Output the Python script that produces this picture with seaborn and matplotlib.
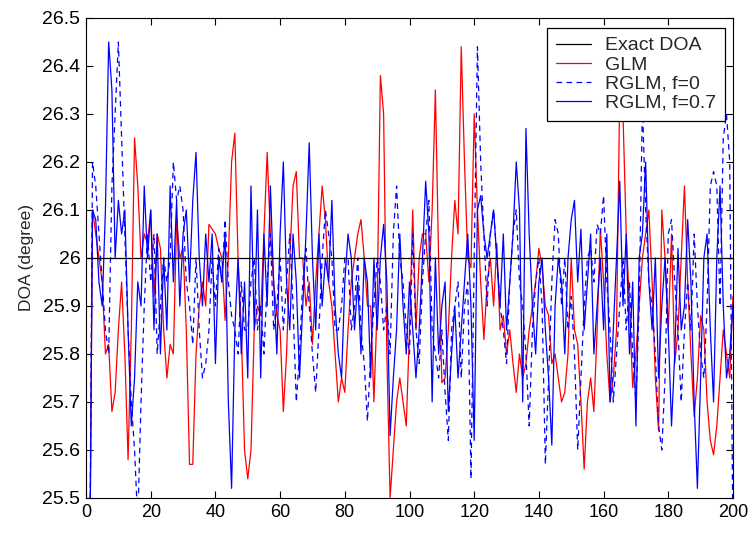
import numpy as np
import pandas as pd
import matplotlib
matplotlib.use("Agg")
import matplotlib.pyplot as plt
import seaborn as sns

# snapshot index 1..200
snapshots = list(range(1, 201))
exact_doa = 26.0

glm = [25.2, 26.1, 26.05, 26.0, 25.95, 25.8, 25.82, 25.68, 25.72, 25.85,
       25.95, 25.8, 25.58, 25.85, 26.25, 26.15, 26.0, 26.05, 26.03, 26.1,
       25.92, 26.05, 26.02, 25.85, 25.75, 25.82, 25.8, 26.08, 26.0, 26.02,
       25.85, 25.57, 25.57, 25.8, 25.9, 25.95, 25.9, 26.07, 26.06, 26.05,
       26.02, 26.0, 25.87, 26.0, 26.2, 26.26, 26.0, 25.85, 25.6, 25.54,
       25.6, 25.85, 25.9, 25.88, 26.05, 26.22, 26.05, 25.95, 25.88, 25.85,
       25.68, 25.8, 26.0, 26.15, 26.18, 26.0, 26.0, 25.9, 25.95, 25.82,
       25.95, 26.05, 26.15, 26.08, 25.95, 25.9, 25.8, 25.7, 25.75, 25.72,
       25.85, 25.95, 26.0, 26.05, 26.08, 26.0, 25.9, 25.9, 25.7, 25.9,
       26.38, 26.3, 25.8, 25.5, 25.6, 25.7, 25.75, 25.7, 25.65, 25.85,
       26.1, 25.85, 26.0, 26.05, 26.05, 25.95, 26.1, 26.35, 26.0, 25.74,
       25.75, 25.85, 26.0, 26.12, 26.05, 26.44, 26.2, 26.0, 25.98, 26.3,
       26.1, 25.95, 25.83, 25.95, 26.0, 25.9, 26.03, 25.85, 25.88, 25.8,
       25.85, 25.78, 25.72, 25.8, 25.75, 25.78, 25.85, 25.9, 25.95, 26.02,
       25.98, 25.9, 25.88, 25.78, 25.8, 25.75, 25.7, 25.72, 25.8, 26.0,
       25.85, 25.82, 25.7, 25.56, 25.7, 25.75, 25.68, 25.85, 26.06, 25.95,
       25.8, 25.7, 25.75, 25.85, 26.35, 26.3, 26.05, 25.9, 25.73, 25.8,
       25.9, 26.0, 26.05, 26.1, 25.95, 25.75, 25.64, 26.1, 26.0, 25.85,
       26.05, 25.78, 25.85, 26.0, 26.15, 25.95, 25.8, 25.67, 25.75, 25.88,
       25.85, 25.7, 25.62, 25.59, 25.65, 25.75, 25.85, 25.8, 25.75, 25.92]

rglm_f0 = [25.2, 26.2, 26.15, 26.05, 25.95, 25.85, 25.8, 26.15, 26.3, 26.45,
           26.25, 26.05, 25.85, 25.7, 25.6, 25.45, 25.7, 25.9, 26.05, 25.95,
           26.05, 25.8, 25.9, 26.0, 25.95, 26.0, 26.2, 26.12, 26.15, 26.1,
           25.95, 25.9, 25.82, 26.0, 25.85, 25.75, 25.78, 25.85, 26.0, 25.9,
           26.02, 25.95, 26.08, 25.95, 25.88, 25.85, 25.8, 25.95, 25.85, 25.85,
           25.95, 26.0, 25.85, 25.9, 25.8, 25.95, 26.05, 25.85, 25.9, 26.0,
           25.85, 25.95, 26.05, 25.9, 25.7, 25.8, 25.95, 26.02, 25.9, 25.8,
           25.72, 25.85, 26.0, 26.1, 26.05, 26.0, 25.85, 25.85, 25.9, 26.0,
           26.0, 25.85, 25.9, 26.0, 25.85, 25.78, 25.66, 25.8, 25.9, 26.0,
           25.95, 25.85, 25.9, 25.8, 26.05, 26.15, 26.0, 25.95, 25.85, 25.8,
           26.05, 25.85, 25.78, 25.95, 26.05, 26.12, 25.85, 25.8, 25.75, 25.85,
           25.72, 25.62, 25.85, 25.9, 25.95, 25.75, 25.9, 25.95, 25.54, 26.0,
           26.44, 26.2, 26.05, 25.9, 26.05, 26.1, 26.0, 25.9, 25.85, 25.78,
           25.95, 26.05, 26.1, 25.95, 25.9, 25.8, 25.65, 25.85, 25.95, 26.0,
           25.9, 25.57, 25.75, 25.95, 26.08, 26.05, 25.9, 26.0, 25.85, 25.92,
           25.8, 25.6, 25.75, 25.9, 26.0, 26.02, 25.95, 26.07, 26.05, 26.13,
           25.95, 25.85, 25.7, 25.8, 25.9, 26.0, 25.85, 25.95, 25.8, 25.7,
           25.9, 26.32, 26.1, 25.95, 25.9, 25.8, 25.65, 25.6, 25.75, 26.05,
           26.08, 25.95, 25.85, 25.7, 25.85, 25.95, 25.85, 26.05, 25.9, 25.8,
           25.75, 25.9, 26.15, 26.18, 26.15, 25.9, 26.25, 26.3, 26.2, 25.4]

rglm_f07 = [25.2, 26.1, 26.08, 25.95, 25.9, 26.1, 26.45, 26.35, 26.0, 26.12,
            26.05, 26.1, 25.85, 25.65, 25.75, 25.95, 25.9, 26.15, 26.0, 26.1,
            25.85, 26.05, 25.8, 26.0, 25.85, 26.15, 25.95, 26.12, 25.9, 26.05,
            26.1, 25.95, 26.12, 26.22, 26.0, 25.9, 26.05, 25.95, 26.05, 25.78,
            26.0, 25.95, 26.05, 25.7, 25.52, 25.85, 26.0, 25.8, 25.95, 25.75,
            26.15, 25.85, 26.1, 25.75, 26.05, 25.9, 26.15, 25.95, 25.8, 26.05,
            26.2, 25.95, 25.85, 26.05, 25.95, 25.75, 25.9, 26.05, 26.24, 26.0,
            25.85, 26.05, 25.9, 26.0, 25.95, 26.12, 25.9, 25.8, 25.75, 25.95,
            26.05, 26.0, 25.85, 25.95, 25.8, 26.0, 25.95, 25.75, 26.0, 25.85,
            26.0, 26.07, 25.95, 25.63, 25.75, 25.85, 26.05, 25.9, 25.8, 25.95,
            25.85, 25.75, 25.85, 26.0, 26.16, 26.05, 25.7, 26.0, 25.8, 25.9,
            25.95, 25.68, 25.8, 25.9, 25.75, 25.85, 25.95, 26.05, 25.9, 25.62,
            26.1, 26.13, 26.05, 26.0, 26.05, 26.1, 26.0, 25.9, 26.05, 25.85,
            25.95, 26.05, 26.2, 26.1, 25.7, 26.27, 26.05, 25.9, 25.8, 25.95,
            26.0, 25.85, 25.75, 25.61, 25.9, 26.0, 25.95, 25.8, 26.0, 26.08,
            26.12, 25.95, 26.06, 25.85, 25.95, 26.05, 25.8, 25.9, 26.0, 25.85,
            26.05, 25.7, 25.85, 26.0, 26.16, 25.9, 26.05, 25.8, 25.95, 25.65,
            26.0, 26.05, 26.2, 25.95, 25.85, 26.0, 25.75, 25.9, 26.0, 25.85,
            25.65, 25.8, 26.02, 25.85, 25.9, 26.08, 25.95, 25.7, 25.52, 25.75,
            26.0, 26.05, 25.85, 25.7, 26.0, 26.15, 25.9, 25.75, 25.8, 25.9]

y_ticks = [25.5, 25.6, 25.7, 25.8, 25.9, 26.0, 26.1, 26.2, 26.3, 26.4, 26.5]
y_tick_labels = ["25.5", "25.6", "25.7", "25.8", "25.9", "26", "26.1", "26.2", "26.3", "26.4", "26.5"]
x_ticks = list(range(0, 201, 20))

df = pd.DataFrame({"snapshot": snapshots, "GLM": glm,
                   "RGLM, f=0": rglm_f0, "RGLM, f=0.7": rglm_f07})

sns.set_style("ticks")
plt.rcParams['font.family'] = ['Liberation Sans', 'DejaVu Sans']

fig = plt.figure(figsize=(7.5, 5.57), dpi=100)
ax = fig.add_axes([0.1147, 0.106, 0.8626, 0.8617])

lw = 0.9
sns.lineplot(x=[0, 200], y=[exact_doa, exact_doa], color="black", lw=lw, ax=ax,
             label="Exact DOA", zorder=5)
sns.lineplot(data=df, x="snapshot", y="GLM", color="#ff0000", lw=lw, ax=ax, label="GLM")
sns.lineplot(data=df, x="snapshot", y="RGLM, f=0", color="#0000ff", lw=lw, ax=ax,
             label="RGLM, f=0", linestyle=(0, (4.5, 3.5)))
sns.lineplot(data=df, x="snapshot", y="RGLM, f=0.7", color="#0000ff", lw=lw, ax=ax,
             label="RGLM, f=0.7")

ax.set_xlim(0, 200)
ax.set_ylim(25.5, 26.5)
ax.set_xticks(x_ticks)
ax.set_yticks(y_ticks)
ax.set_yticklabels(y_tick_labels)
ax.set_xlabel("")
ax.set_ylabel("DOA (degree)", fontsize=12.5, labelpad=6)
ax.tick_params(direction="in", length=5, width=0.8, top=True, right=True,
               labelsize=14, pad=4, colors="black")
ax.tick_params(axis="x", labelsize=13)
for s in ax.spines.values():
    s.set_visible(True)
    s.set_color("black")
    s.set_linewidth(0.8)

leg = ax.legend(loc="upper right", bbox_to_anchor=(0.987, 0.979), borderaxespad=0,
                fancybox=False, framealpha=1, edgecolor="black", fontsize=14,
                handlelength=1.8, handletextpad=0.7, labelspacing=0.08,
                borderpad=0.45)
leg.get_frame().set_linewidth(0.9)

fig.savefig("out.png", dpi=100)
